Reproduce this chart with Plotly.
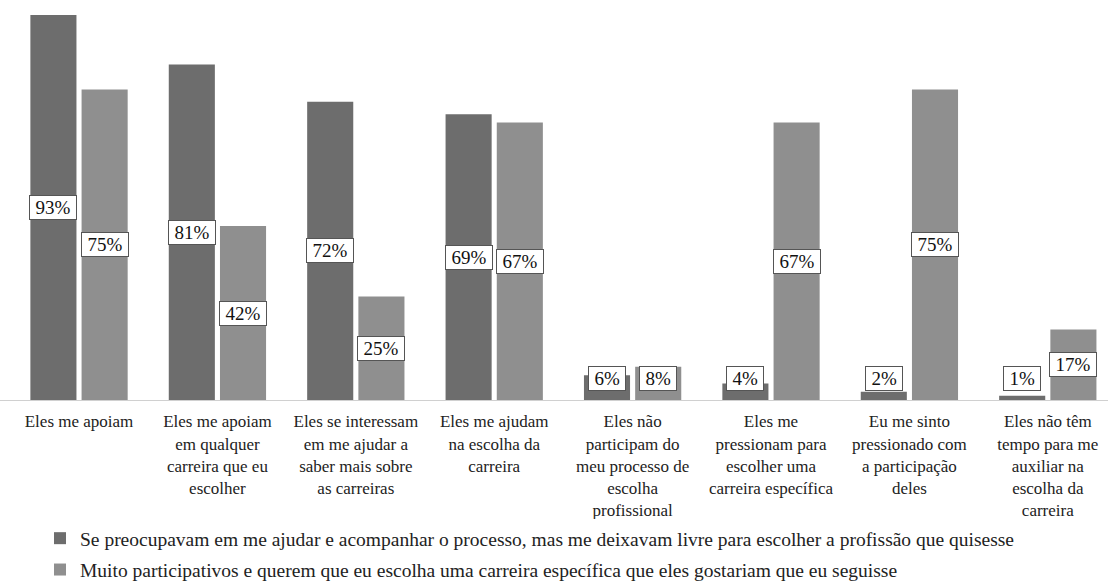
import plotly.graph_objects as go

categories = [
    "Eles me apoiam",
    "Eles me apoiam<br>em qualquer<br>carreira que eu<br>escolher",
    "Eles se interessam<br>em me ajudar a<br>saber mais sobre<br>as carreiras",
    "Eles me ajudam<br>na escolha da<br>carreira",
    "Eles não<br>participam do<br>meu processo de<br>escolha<br>profissional",
    "Eles me<br>pressionam para<br>escolher uma<br>carreira específica",
    "Eu me sinto<br>pressionado com<br>a participação<br>deles",
    "Eles não têm<br>tempo para me<br>auxiliar na<br>escolha da<br>carreira",
]
series_names = [
    "Se preocupavam em me ajudar e acompanhar o processo, mas me deixavam livre para escolher a profissão que quisesse",
    "Muito participativos e querem que eu escolha uma carreira específica que eles gostariam que eu seguisse",
]
series1 = [93, 81, 72, 69, 6, 4, 2, 1]
series2 = [75, 42, 25, 67, 8, 67, 75, 17]

colors = ["#6d6d6d", "#8f8f8f"]
FONT = "Liberation Serif"
LABEL_SIZE = 19

positions = list(range(len(categories)))

fig = go.Figure()
for i, (name, vals) in enumerate(zip(series_names, [series1, series2])):
    fig.add_trace(go.Bar(
        x=positions, y=vals, name=name,
        marker=dict(color=colors[i], line=dict(width=0)),
        legendgroup=f"g{i}",
        hoverinfo="skip",
    ))

bargap = 0.26
offset = (1 - bargap) / 4
min_label = 5.3
annotations = []
for i, vals in enumerate([series1, series2]):
    sign = -1 if i == 0 else 1
    for j, v in enumerate(vals):
        txt = f"{v}%"
        tw = (len(txt) - 1) * 0.5 * LABEL_SIZE + 0.833 * LABEL_SIZE
        annotations.append(dict(
            x=positions[j] + sign * offset, y=max(v / 2, min_label),
            xref="x", yref="y",
            text=txt, showarrow=False,
            font=dict(family=FONT, size=LABEL_SIZE, color="#111"),
            bgcolor="white", bordercolor="#555", borderwidth=1,
            borderpad=1, width=tw + 9,
        ))

fig.update_layout(
    width=1108, height=585,
    margin=dict(l=0, r=0, t=0, b=185, autoexpand=False),
    plot_bgcolor="white", paper_bgcolor="white",
    barmode="group", bargap=bargap, bargroupgap=0.1,
    annotations=annotations,
    showlegend=True,
    legend=dict(
        orientation="v",
        xref="container", yref="container",
        x=40 / 1108, y=1 - 519 / 585,
        xanchor="left", yanchor="top",
        font=dict(family=FONT, size=19.5, color="#222"),
        tracegroupgap=3,
        itemwidth=30,
    ),
    xaxis=dict(
        type="linear",
        range=[-0.571, 7.435],
        tickmode="array", tickvals=positions, ticktext=categories,
        showline=True, linecolor="#d0d0d0", linewidth=1,
        showgrid=False, zeroline=False,
        ticks="outside", ticklen=6, tickcolor="rgba(0,0,0,0)",
        tickfont=dict(family=FONT, size=17, color="#222"),
        tickangle=0,
    ),
    yaxis=dict(
        range=[0, 96.6], visible=False, showgrid=False, zeroline=False,
    ),
)

fig.write_html("out.html")
